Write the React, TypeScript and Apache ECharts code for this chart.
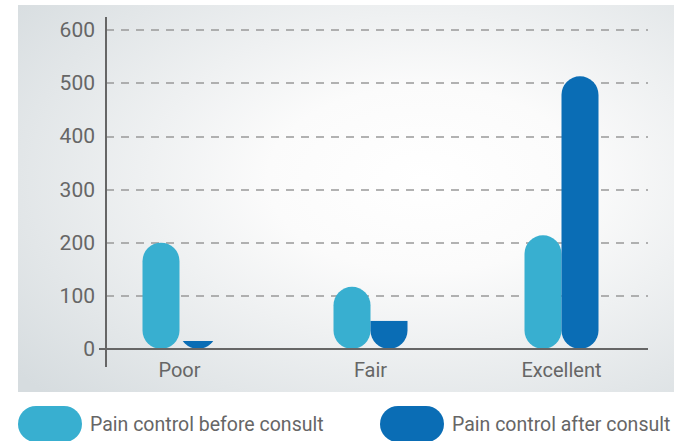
import React, { useEffect, useRef } from 'react';
import * as echarts from 'echarts';

const categories = ['Poor', 'Fair', 'Excellent'];
const beforeValues = [200, 117, 214];
const afterValues = [15, 53, 513];
const seriesNames = ['Pain control before consult', 'Pain control after consult'];
const colors = ['#38afd0', '#0a6db5'];
const yMin = 0;
const yMax = 600;
const yInterval = 100;

const BAR_W = 37;
const FONT = 'Roboto';
const TEXT = '#666666';
const PILL = 'path://M18,0H46A18,18,0,0,1,46,36H18A18,18,0,0,1,18,0Z';

function makeRenderItem(side: number) {
  return (params: any, api: any) => {
    const idx = api.value(0);
    const val = api.value(1);
    const base = api.coord([idx, 0]);
    const top = api.coord([idx, val]);
    const x = side === 0 ? base[0] - BAR_W : base[0];
    const h = base[1] - top[1];
    const r = BAR_W / 2;
    const style = { fill: api.visual('color') };
    if (h >= BAR_W) {
      return { type: 'rect', shape: { x, y: top[1], width: BAR_W, height: h, r }, style };
    }
    const hh = Math.max(h, r);
    return {
      type: 'rect',
      shape: { x, y: base[1] - hh, width: BAR_W, height: hh, r: [0, 0, r, r] },
      style,
      clipPath: { type: 'rect', shape: { x: x - 1, y: top[1], width: BAR_W + 2, height: h } },
    };
  };
}

export default function App() {
  const ref = useRef<HTMLDivElement>(null);
  useEffect(() => {
    if (!ref.current) return;
    const chart = echarts.init(ref.current, null, { renderer: 'svg' });
    const legendBase = {
      top: 406,
      padding: 0,
      itemWidth: 64,
      itemHeight: 36,
      selectedMode: false,
      textStyle: { fontSize: 19.5, color: TEXT, fontFamily: FONT, padding: [0, 0, 0, 3] },
    };
    chart.setOption({
      animation: false,
      textStyle: { fontFamily: FONT },
      graphic: [
        {
          type: 'rect',
          z: -10,
          silent: true,
          shape: { x: 18, y: 5, width: 656, height: 387 },
          style: {
            fill: new echarts.graphic.RadialGradient(0.62, 0.45, 0.8, [
              { offset: 0, color: '#ffffff' },
              { offset: 0.3, color: '#fbfbfb' },
              { offset: 1, color: '#d6dcdf' },
            ]),
          },
        },
        {
          type: 'line',
          z: 10,
          silent: true,
          shape: { x1: 106, y1: 17, x2: 106, y2: 367 },
          style: { stroke: '#666666', lineWidth: 2 },
        },
        {
          type: 'line',
          z: 10,
          silent: true,
          shape: { x1: 99, y1: 349, x2: 648, y2: 349 },
          style: { stroke: '#666666', lineWidth: 2 },
        },
      ],
      legend: [
        { ...legendBase, left: 18, data: [{ name: seriesNames[0], icon: PILL, itemStyle: { color: colors[0] } }] },
        { ...legendBase, left: 380, data: [{ name: seriesNames[1], icon: PILL, itemStyle: { color: colors[1] } }] },
      ],
      grid: [
        { left: 84, right: 17, top: 30, bottom: 92 },
        { left: 106, right: 26, top: 30, bottom: 92 },
      ],
      xAxis: [
        {
          type: 'category',
          gridIndex: 0,
          data: categories,
          axisLine: { show: false },
          axisTick: { show: false },
          axisLabel: { fontSize: 20, color: TEXT, fontFamily: FONT, margin: 11 },
        },
        {
          type: 'category',
          gridIndex: 1,
          data: categories,
          show: false,
        },
      ],
      yAxis: [
        { type: 'value', gridIndex: 0, min: yMin, max: yMax, interval: yInterval, show: false },
        {
          type: 'value',
          gridIndex: 1,
          min: yMin,
          max: yMax,
          interval: yInterval,
          axisLine: { show: false },
          axisTick: { show: false },
          axisLabel: { fontSize: 21, color: TEXT, fontFamily: FONT, margin: 11 },
          splitLine: { lineStyle: { color: '#999999', width: 1.5, type: [8, 7] } },
        },
      ],
      series: [
        {
          name: seriesNames[0],
          type: 'custom',
          xAxisIndex: 0,
          yAxisIndex: 0,
          itemStyle: { color: colors[0] },
          encode: { x: 0, y: 1 },
          renderItem: makeRenderItem(0),
          data: categories.map((_, i) => [i, beforeValues[i]]),
        },
        {
          name: seriesNames[1],
          type: 'custom',
          xAxisIndex: 0,
          yAxisIndex: 0,
          itemStyle: { color: colors[1] },
          encode: { x: 0, y: 1 },
          renderItem: makeRenderItem(1),
          data: categories.map((_, i) => [i, afterValues[i]]),
        },
      ],
    });
    return () => chart.dispose();
  }, []);
  return (
    <div
      ref={ref}
      style={{ position: 'fixed', left: 0, top: 0, width: 674, height: 441, background: '#ffffff' }}
    />
  );
}
